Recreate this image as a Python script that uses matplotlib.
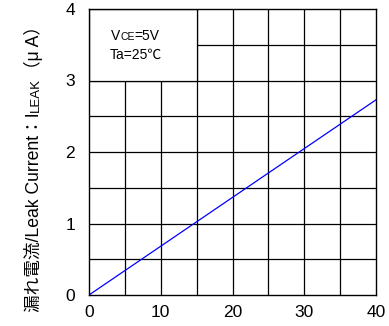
import matplotlib
matplotlib.use("Agg")
import matplotlib.pyplot as plt
from matplotlib.patches import Rectangle
import numpy as np

# Leak current vs. collector-emitter voltage
vce = [0, 40]
i_leak = [0.0, 2.73]

x_ticks = [0, 10, 20, 30, 40]
y_ticks = [0, 1, 2, 3, 4]

FONT = ["Liberation Sans", "Noto Sans CJK JP", "DejaVu Sans"]
plt.rcParams["font.family"] = FONT

fig = plt.figure(figsize=(3.89, 3.26), dpi=100)
ax = fig.add_axes([89 / 389, 1 - 295 / 326, 287 / 389, 286 / 326])
ax.set_xlim(0, 40)
ax.set_ylim(0, 4)

# grid every 5 V and 0.5 uA
for xv in np.arange(5, 40, 5):
    ax.axvline(xv, color="black", lw=0.9, zorder=1)
for yv in np.arange(0.5, 4, 0.5):
    ax.axhline(yv, color="black", lw=0.9, zorder=1)

# blank panel for the conditions text
ax.add_patch(Rectangle((0, 3), 15, 1, facecolor="white", edgecolor="black",
                       lw=0.9, zorder=2))

ax.plot(vce, i_leak, color="#0000ff", lw=0.9, zorder=3)

ax.set_xticks(x_ticks)
ax.set_yticks(y_ticks)
ax.tick_params(length=0, labelsize=12.5, colors="black")
ax.tick_params(axis="y", pad=10)
ax.tick_params(axis="x", pad=7)
for s in ax.spines.values():
    s.set_linewidth(1.0)
    s.set_zorder(4)

fig.canvas.draw()
renderer = fig.canvas.get_renderer()


def run_text(pieces, x0, y0, rotation):
    """Draw text pieces (string, size) one after another on a shared baseline."""
    x, y = x0, y0
    for s, size in pieces:
        t = fig.text(x, y, s, fontsize=size, rotation=rotation,
                     rotation_mode="anchor", ha="left", va="baseline",
                     family=FONT, transform=None)
        bb = t.get_window_extent(renderer)
        if rotation == 90:
            y += bb.height
        else:
            x += bb.width


# y-axis label
run_text([("漏れ電流/Leak Current：I", 12.7), ("LEAK", 9.5), ("（μ A）", 12.7)],
         39, 14, 90)

# measurement conditions
run_text([("V", 10), ("CE", 7.5), ("=5V", 10)], 111, 326 - 40, 0)
run_text([("Ta=25℃", 10)], 110, 326 - 59, 0)

fig.savefig("out.png", dpi=100)
